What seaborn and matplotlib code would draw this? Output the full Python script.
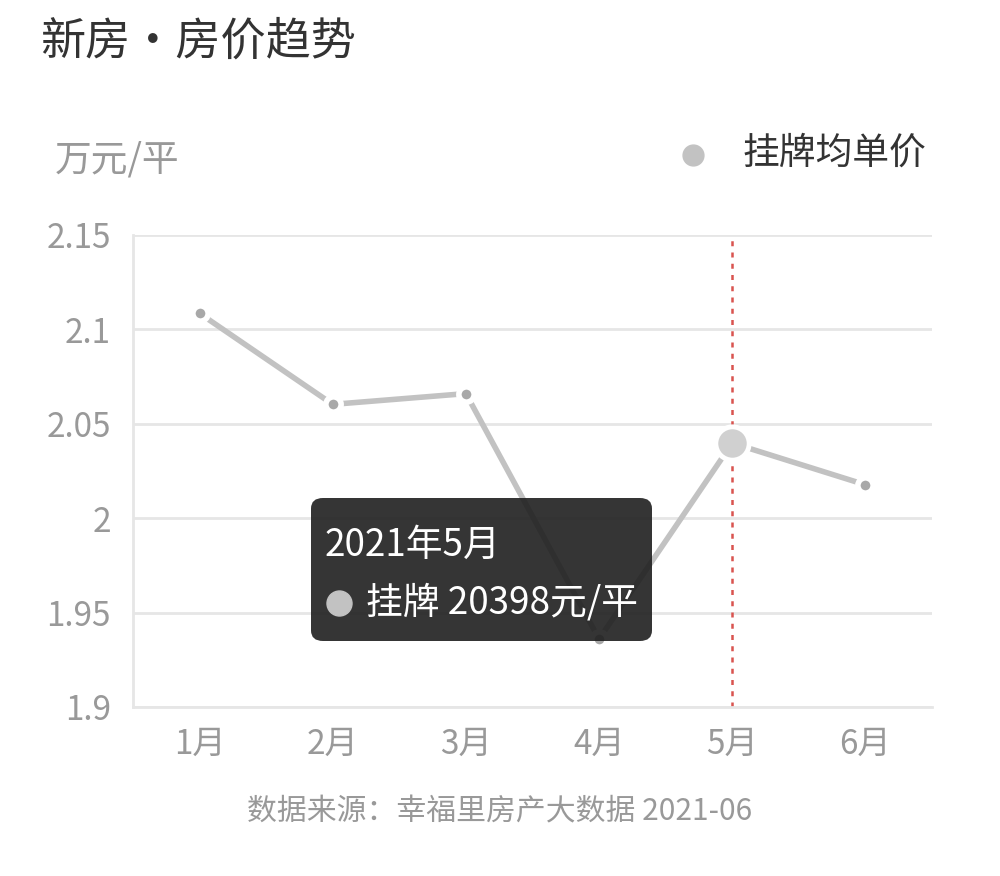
import matplotlib
matplotlib.use('Agg')
import matplotlib.pyplot as plt
from matplotlib.patches import FancyBboxPatch
from matplotlib.lines import Line2D
import seaborn as sns
import pandas as pd

# data
months = ['1月', '2月', '3月', '4月', '5月', '6月']
prices = [2.1085, 2.0603, 2.066, 1.936, 2.0398, 2.0177]
yticks = [1.9, 1.95, 2.0, 2.05, 2.1, 2.15]
ytick_labels = ['1.9', '1.95', '2', '2.05', '2.1', '2.15']
focus_month = '5月'
focus_value = 20398

df = pd.DataFrame({'month': months, 'price': prices})

sns.set_style('white')
plt.rcParams['font.family'] = ['Noto Sans CJK SC', 'DejaVu Sans']

fig = plt.figure(figsize=(10, 8.76), dpi=100)
ax = fig.add_axes([0.133, 1 - 707 / 876, 0.799, (707 - 235) / 876])

line_c = '#c2c2c2'
sns.lineplot(data=df, x='month', y='price', ax=ax, color=line_c, linewidth=4,
             marker='o', markersize=11, markerfacecolor='#a8a8a8',
             markeredgecolor='white', markeredgewidth=4, zorder=3)

# highlighted point
fi = months.index(focus_month)
ax.plot([fi], [prices[fi]], marker='o', markersize=24, markerfacecolor='#d0d0d0',
        markeredgecolor='white', markeredgewidth=3.5, zorder=4)

ax.set_ylim(1.9, 2.15)
ax.set_xlim(-0.5, len(months) - 0.5)
ax.set_yticks(yticks)
ax.set_yticklabels(ytick_labels)
ax.grid(axis='y', color='#e6e6e6', linewidth=2)
ax.set_axisbelow(True)
for s in ['top', 'right']:
    ax.spines[s].set_visible(False)
for s in ['left', 'bottom']:
    ax.spines[s].set_color('#e6e6e6')
    ax.spines[s].set_linewidth(2)
ax.tick_params(axis='both', length=0, colors='#999999')
ax.tick_params(axis='y', pad=16, labelsize=24)
ax.tick_params(axis='x', pad=14, labelsize=24)
ax.set_xlabel('')
ax.set_ylabel('')

# dashed marker line
ax.axvline(fi, color='#d9534f', linestyle=(0, (2, 2.5)), linewidth=1.8, zorder=2)

# title, unit, legend, footer
fig.text(0.04, 1 - 42 / 876, '新房・房价趋势', fontsize=32.5, color='#333333', va='center', ha='left')
fig.text(0.055, 1 - 160 / 876, '万元/平', fontsize=26.5, color='#999999', va='center', ha='left')
fig.add_artist(Line2D([0.693], [1 - 155 / 876], marker='o', markersize=15, color='#c2c2c2',
                      linestyle='none', transform=fig.transFigure))
fig.text(0.743, 1 - 153 / 876, '挂牌均单价', fontsize=26.5, color='#333333', va='center', ha='left')
fig.text(0.5, 1 - 812 / 876, '数据来源：幸福里房产大数据 2021-06', fontsize=21.5, color='#999999',
         va='center', ha='center')

# tooltip
box = FancyBboxPatch((0.311, 1 - 641 / 876), 0.341, 143 / 876,
                     boxstyle='round,pad=0,rounding_size=0.012', transform=fig.transFigure,
                     facecolor='#1f1f1f', edgecolor='none', alpha=0.9, zorder=10)
fig.add_artist(box)
fig.text(0.325, 1 - 545 / 876, '2021年' + focus_month, fontsize=26.5, color='white',
         va='center', ha='left', zorder=11)
fig.add_artist(Line2D([0.339], [1 - 603 / 876], marker='o', markersize=18, color='#c2c2c2',
                      linestyle='none', transform=fig.transFigure, zorder=11))
fig.text(0.366, 1 - 603 / 876, f'挂牌 {focus_value}元/平', fontsize=26.5, color='white',
         va='center', ha='left', zorder=11)

fig.savefig('out.png', dpi=100, facecolor='white')
